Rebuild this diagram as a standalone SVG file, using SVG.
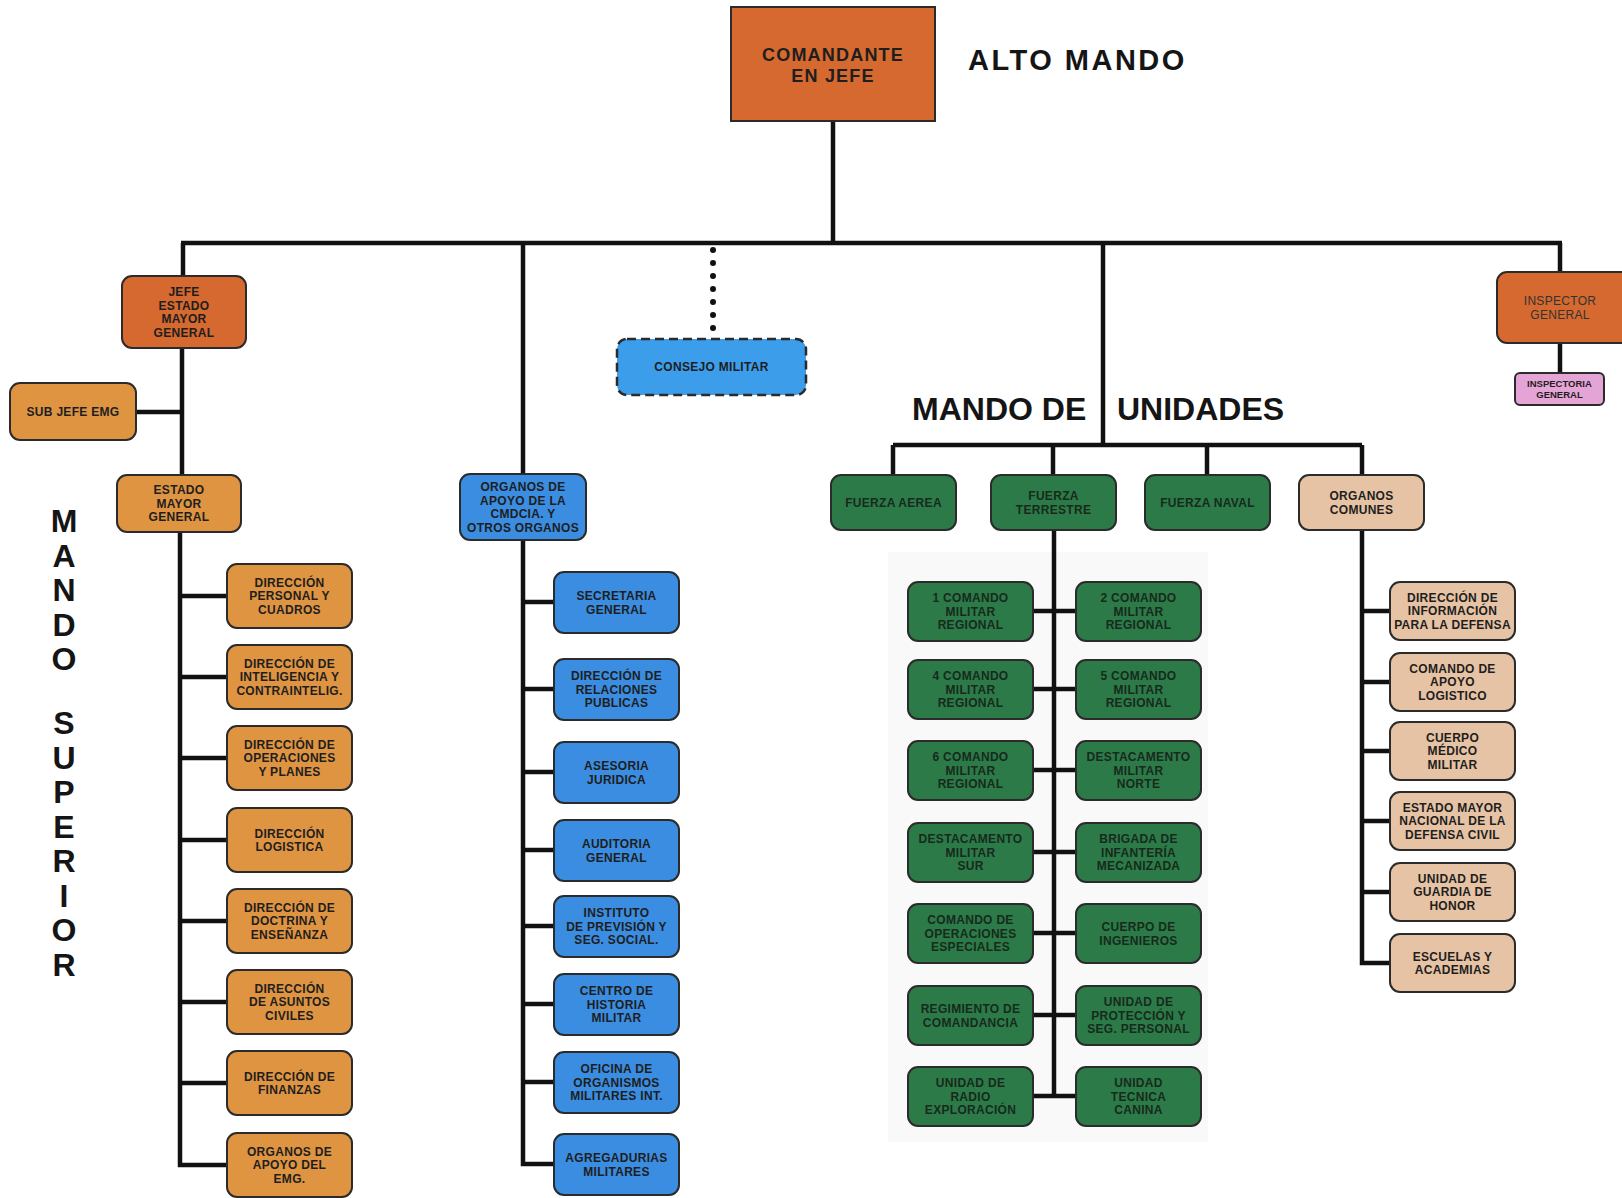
<svg xmlns="http://www.w3.org/2000/svg" width="1622" height="1198" viewBox="0 0 1622 1198">
<style>
.box{stroke:#2b2b2b;stroke-width:2}
.o1{fill:#D5692F}.o2{fill:#DF9442}.bl{fill:#3A8DE0}.cb{fill:#3C9DEB}.gr{fill:#2C7A47}.tn{fill:#E6C3A4}.pk{fill:#E4A5D6}
.t{font-family:"Liberation Sans",Arial,sans-serif;font-weight:bold;font-size:12px;fill:#1e1e1e;text-anchor:middle;letter-spacing:0.3px}
.tg{fill:#172a1d}
.big{font-family:"Liberation Sans",Arial,sans-serif;font-weight:bold;fill:#151515}
.conn{stroke:#111;stroke-width:4.5;fill:none}
.dots{stroke:#111;stroke-width:6;stroke-linecap:round;stroke-dasharray:0 13;fill:none}
</style>
<rect x="0" y="0" width="1622" height="1198" fill="#ffffff"/>
<rect x="888" y="552" width="320" height="590" fill="#f9f9f9"/>

<g id="connectors">
<path class="conn" d="M833 121V243M181 243H1562"/>
<path class="conn" d="M183 243V276M182 348V475M136 412H182"/>
<path class="conn" d="M180 532V1165H227M180 596H227M180 677H227M180 758H227M180 840H227M180 921H227M180 1002H227M180 1083H227"/>
<path class="conn" d="M523 243V474M523 540V1164H554M523 602H554M523 689H554M523 772H554M523 850H554M523 926H554M523 1004H554M523 1082H554"/>
<path class="dots" d="M713 250V330"/>
<path class="conn" d="M1103 243V445M893 445H1362M893 445V475M1053 445V475M1207 445V475M1362 445V475"/>
<path class="conn" d="M1054 530V1097M1033 611H1076M1033 689H1076M1033 770H1076M1033 852H1076M1033 933H1076M1033 1015H1076M1033 1096H1076"/>
<path class="conn" d="M1362 530V963H1390M1362 611H1390M1362 682H1390M1362 751H1390M1362 821H1390M1362 892H1390"/>
<path class="conn" d="M1560 243V272M1560 343V373"/>
</g>

<g id="titles">
<text class="big" x="968" y="70" style="font-size:29px;letter-spacing:2.5px">ALTO MANDO</text>
<text class="big" x="912" y="420" style="font-size:32px">MANDO DE</text>
<text class="big" x="1117" y="420" style="font-size:32px">UNIDADES</text>
<g class="big" style="font-size:32px;text-anchor:middle">
<text x="64" y="532">M</text><text x="64" y="566.5">A</text><text x="64" y="601">N</text><text x="64" y="635.5">D</text><text x="64" y="670">O</text>
<text x="64" y="734">S</text><text x="64" y="768.5">U</text><text x="64" y="803">P</text><text x="64" y="837.5">E</text><text x="64" y="872">R</text><text x="64" y="906.5">I</text><text x="64" y="941">O</text><text x="64" y="975.5">R</text>
</g>
</g>

<g id="comandante"><rect class="box o1" x="731" y="7" width="204" height="114"/><text class="t" style="font-size:18px;letter-spacing:1.2px" x="833" y="61">COMANDANTE<tspan x="833" dy="21">EN JEFE</tspan></text></g>

<g id="jefe-emg"><rect class="box o1" x="122" y="276" width="124" height="72" rx="10"/><text class="t" x="184" y="296">JEFE<tspan x="184" dy="13.5">ESTADO</tspan><tspan x="184" dy="13.5">MAYOR</tspan><tspan x="184" dy="13.5">GENERAL</tspan></text></g>
<g id="sub-jefe"><rect class="box o2" x="10" y="383" width="126" height="57" rx="10"/><text class="t" x="73" y="416">SUB JEFE EMG</text></g>
<g id="estado-mayor"><rect class="box o2" x="117" y="475" width="124" height="57" rx="10"/><text class="t" x="179" y="494.3">ESTADO<tspan x="179" dy="13.5">MAYOR</tspan><tspan x="179" dy="13.5">GENERAL</tspan></text></g>

<g id="dir-personal"><rect class="box o2" x="227" y="564" width="125" height="64" rx="10"/><text class="t" x="289.5" y="586.8">DIRECCIÓN<tspan x="289.5" dy="13.5">PERSONAL Y</tspan><tspan x="289.5" dy="13.5">CUADROS</tspan></text></g>
<g id="dir-inteligencia"><rect class="box o2" x="227" y="645" width="125" height="64" rx="10"/><text class="t" x="289.5" y="667.8">DIRECCIÓN DE<tspan x="289.5" dy="13.5">INTELIGENCIA Y</tspan><tspan x="289.5" dy="13.5">CONTRAINTELIG.</tspan></text></g>
<g id="dir-operaciones"><rect class="box o2" x="227" y="726" width="125" height="64" rx="10"/><text class="t" x="289.5" y="748.8">DIRECCIÓN DE<tspan x="289.5" dy="13.5">OPERACIONES</tspan><tspan x="289.5" dy="13.5">Y PLANES</tspan></text></g>
<g id="dir-logistica"><rect class="box o2" x="227" y="808" width="125" height="64" rx="10"/><text class="t" x="289.5" y="837.6">DIRECCIÓN<tspan x="289.5" dy="13.5">LOGISTICA</tspan></text></g>
<g id="dir-doctrina"><rect class="box o2" x="227" y="889" width="125" height="64" rx="10"/><text class="t" x="289.5" y="911.8">DIRECCIÓN DE<tspan x="289.5" dy="13.5">DOCTRINA Y</tspan><tspan x="289.5" dy="13.5">ENSEÑANZA</tspan></text></g>
<g id="dir-asuntos"><rect class="box o2" x="227" y="970" width="125" height="64" rx="10"/><text class="t" x="289.5" y="992.8">DIRECCIÓN<tspan x="289.5" dy="13.5">DE ASUNTOS</tspan><tspan x="289.5" dy="13.5">CIVILES</tspan></text></g>
<g id="dir-finanzas"><rect class="box o2" x="227" y="1051" width="125" height="64" rx="10"/><text class="t" x="289.5" y="1080.6">DIRECCIÓN DE<tspan x="289.5" dy="13.5">FINANZAS</tspan></text></g>
<g id="organos-emg"><rect class="box o2" x="227" y="1133" width="125" height="64" rx="10"/><text class="t" x="289.5" y="1155.8">ORGANOS DE<tspan x="289.5" dy="13.5">APOYO DEL</tspan><tspan x="289.5" dy="13.5">EMG.</tspan></text></g>

<g id="organos-apoyo"><rect class="box bl" x="460" y="474" width="126" height="66" rx="10"/><text class="t" x="523" y="491">ORGANOS DE<tspan x="523" dy="13.5">APOYO DE LA</tspan><tspan x="523" dy="13.5">CMDCIA. Y</tspan><tspan x="523" dy="13.5">OTROS ORGANOS</tspan></text></g>
<g id="consejo"><rect class="box cb" x="617" y="339" width="189" height="56" rx="10" style="stroke-width:2.5;stroke-dasharray:9 5"/><text class="t" x="711.5" y="371">CONSEJO MILITAR</text></g>

<g id="secretaria"><rect class="box bl" x="554" y="572" width="125" height="61" rx="10"/><text class="t" x="616.5" y="600">SECRETARIA<tspan x="616.5" dy="13.5">GENERAL</tspan></text></g>
<g id="relaciones"><rect class="box bl" x="554" y="659" width="125" height="61" rx="10"/><text class="t" x="616.5" y="680.3">DIRECCIÓN DE<tspan x="616.5" dy="13.5">RELACIONES</tspan><tspan x="616.5" dy="13.5">PUBLICAS</tspan></text></g>
<g id="asesoria"><rect class="box bl" x="554" y="742" width="125" height="61" rx="10"/><text class="t" x="616.5" y="770">ASESORIA<tspan x="616.5" dy="13.5">JURIDICA</tspan></text></g>
<g id="auditoria"><rect class="box bl" x="554" y="820" width="125" height="61" rx="10"/><text class="t" x="616.5" y="848">AUDITORIA<tspan x="616.5" dy="13.5">GENERAL</tspan></text></g>
<g id="instituto"><rect class="box bl" x="554" y="896" width="125" height="61" rx="10"/><text class="t" x="616.5" y="917.3">INSTITUTO<tspan x="616.5" dy="13.5">DE PREVISIÓN Y</tspan><tspan x="616.5" dy="13.5">SEG. SOCIAL.</tspan></text></g>
<g id="historia"><rect class="box bl" x="554" y="974" width="125" height="61" rx="10"/><text class="t" x="616.5" y="995.3">CENTRO DE<tspan x="616.5" dy="13.5">HISTORIA</tspan><tspan x="616.5" dy="13.5">MILITAR</tspan></text></g>
<g id="oficina"><rect class="box bl" x="554" y="1052" width="125" height="61" rx="10"/><text class="t" x="616.5" y="1073.3">OFICINA DE<tspan x="616.5" dy="13.5">ORGANISMOS</tspan><tspan x="616.5" dy="13.5">MILITARES INT.</tspan></text></g>
<g id="agregadurias"><rect class="box bl" x="554" y="1134" width="125" height="61" rx="10"/><text class="t" x="616.5" y="1162">AGREGADURIAS<tspan x="616.5" dy="13.5">MILITARES</tspan></text></g>

<g id="fuerza-aerea"><rect class="box gr" x="831" y="475" width="125" height="55" rx="10"/><text class="t tg" x="893.5" y="506.8">FUERZA AEREA</text></g>
<g id="fuerza-terrestre"><rect class="box gr" x="991" y="475" width="125" height="55" rx="10"/><text class="t tg" x="1053.5" y="500">FUERZA<tspan x="1053.5" dy="13.5">TERRESTRE</tspan></text></g>
<g id="fuerza-naval"><rect class="box gr" x="1145" y="475" width="125" height="55" rx="10"/><text class="t tg" x="1207.5" y="506.8">FUERZA NAVAL</text></g>
<g id="organos-comunes"><rect class="box tn" x="1299" y="475" width="125" height="55" rx="10"/><text class="t" x="1361.5" y="500">ORGANOS<tspan x="1361.5" dy="13.5">COMUNES</tspan></text></g>

<g id="cmr1"><rect class="box gr" x="908" y="582" width="125" height="59" rx="10"/><text class="t tg" x="970.5" y="602.3">1 COMANDO<tspan x="970.5" dy="13.5">MILITAR</tspan><tspan x="970.5" dy="13.5">REGIONAL</tspan></text></g>
<g id="cmr2"><rect class="box gr" x="1076" y="582" width="125" height="59" rx="10"/><text class="t tg" x="1138.5" y="602.3">2 COMANDO<tspan x="1138.5" dy="13.5">MILITAR</tspan><tspan x="1138.5" dy="13.5">REGIONAL</tspan></text></g>
<g id="cmr4"><rect class="box gr" x="908" y="660" width="125" height="59" rx="10"/><text class="t tg" x="970.5" y="680.3">4 COMANDO<tspan x="970.5" dy="13.5">MILITAR</tspan><tspan x="970.5" dy="13.5">REGIONAL</tspan></text></g>
<g id="cmr5"><rect class="box gr" x="1076" y="660" width="125" height="59" rx="10"/><text class="t tg" x="1138.5" y="680.3">5 COMANDO<tspan x="1138.5" dy="13.5">MILITAR</tspan><tspan x="1138.5" dy="13.5">REGIONAL</tspan></text></g>
<g id="cmr6"><rect class="box gr" x="908" y="741" width="125" height="59" rx="10"/><text class="t tg" x="970.5" y="761.3">6 COMANDO<tspan x="970.5" dy="13.5">MILITAR</tspan><tspan x="970.5" dy="13.5">REGIONAL</tspan></text></g>
<g id="dest-norte"><rect class="box gr" x="1076" y="741" width="125" height="59" rx="10"/><text class="t tg" x="1138.5" y="761.3">DESTACAMENTO<tspan x="1138.5" dy="13.5">MILITAR</tspan><tspan x="1138.5" dy="13.5">NORTE</tspan></text></g>
<g id="dest-sur"><rect class="box gr" x="908" y="823" width="125" height="59" rx="10"/><text class="t tg" x="970.5" y="843.3">DESTACAMENTO<tspan x="970.5" dy="13.5">MILITAR</tspan><tspan x="970.5" dy="13.5">SUR</tspan></text></g>
<g id="brigada"><rect class="box gr" x="1076" y="823" width="125" height="59" rx="10"/><text class="t tg" x="1138.5" y="843.3">BRIGADA DE<tspan x="1138.5" dy="13.5">INFANTERÍA</tspan><tspan x="1138.5" dy="13.5">MECANIZADA</tspan></text></g>
<g id="com-operaciones"><rect class="box gr" x="908" y="904" width="125" height="59" rx="10"/><text class="t tg" x="970.5" y="924.3">COMANDO DE<tspan x="970.5" dy="13.5">OPERACIONES</tspan><tspan x="970.5" dy="13.5">ESPECIALES</tspan></text></g>
<g id="ingenieros"><rect class="box gr" x="1076" y="904" width="125" height="59" rx="10"/><text class="t tg" x="1138.5" y="931">CUERPO DE<tspan x="1138.5" dy="13.5">INGENIEROS</tspan></text></g>
<g id="regimiento"><rect class="box gr" x="908" y="986" width="125" height="59" rx="10"/><text class="t tg" x="970.5" y="1013">REGIMIENTO DE<tspan x="970.5" dy="13.5">COMANDANCIA</tspan></text></g>
<g id="proteccion"><rect class="box gr" x="1076" y="986" width="125" height="59" rx="10"/><text class="t tg" x="1138.5" y="1006.3">UNIDAD DE<tspan x="1138.5" dy="13.5">PROTECCIÓN Y</tspan><tspan x="1138.5" dy="13.5">SEG. PERSONAL</tspan></text></g>
<g id="radio"><rect class="box gr" x="908" y="1067" width="125" height="59" rx="10"/><text class="t tg" x="970.5" y="1087.3">UNIDAD DE<tspan x="970.5" dy="13.5">RADIO</tspan><tspan x="970.5" dy="13.5">EXPLORACIÓN</tspan></text></g>
<g id="canina"><rect class="box gr" x="1076" y="1067" width="125" height="59" rx="10"/><text class="t tg" x="1138.5" y="1087.3">UNIDAD<tspan x="1138.5" dy="13.5">TECNICA</tspan><tspan x="1138.5" dy="13.5">CANINA</tspan></text></g>

<g id="dir-informacion"><rect class="box tn" x="1390" y="582" width="125" height="58" rx="10"/><text class="t" x="1452.5" y="601.8">DIRECCIÓN DE<tspan x="1452.5" dy="13.5">INFORMACIÓN</tspan><tspan x="1452.5" dy="13.5">PARA LA DEFENSA</tspan></text></g>
<g id="apoyo-logistico"><rect class="box tn" x="1390" y="653" width="125" height="58" rx="10"/><text class="t" x="1452.5" y="672.8">COMANDO DE<tspan x="1452.5" dy="13.5">APOYO</tspan><tspan x="1452.5" dy="13.5">LOGISTICO</tspan></text></g>
<g id="cuerpo-medico"><rect class="box tn" x="1390" y="722" width="125" height="58" rx="10"/><text class="t" x="1452.5" y="741.8">CUERPO<tspan x="1452.5" dy="13.5">MÉDICO</tspan><tspan x="1452.5" dy="13.5">MILITAR</tspan></text></g>
<g id="defensa-civil"><rect class="box tn" x="1390" y="792" width="125" height="58" rx="10"/><text class="t" x="1452.5" y="811.8">ESTADO MAYOR<tspan x="1452.5" dy="13.5">NACIONAL DE LA</tspan><tspan x="1452.5" dy="13.5">DEFENSA CIVIL</tspan></text></g>
<g id="guardia-honor"><rect class="box tn" x="1390" y="863" width="125" height="58" rx="10"/><text class="t" x="1452.5" y="882.8">UNIDAD DE<tspan x="1452.5" dy="13.5">GUARDIA DE</tspan><tspan x="1452.5" dy="13.5">HONOR</tspan></text></g>
<g id="escuelas"><rect class="box tn" x="1390" y="934" width="125" height="58" rx="10"/><text class="t" x="1452.5" y="960.5">ESCUELAS Y<tspan x="1452.5" dy="13.5">ACADEMIAS</tspan></text></g>

<g id="inspector"><rect class="box o1" x="1497" y="272" width="134" height="71" rx="10"/><text class="t" style="font-weight:normal;fill:#333" x="1560" y="305">INSPECTOR<tspan x="1560" dy="13.5">GENERAL</tspan></text></g>
<g id="inspectoria"><rect class="box pk" x="1515" y="373" width="89" height="32" rx="5"/><text class="t" style="font-size:9.5px;letter-spacing:0" x="1559.5" y="387">INSPECTORIA<tspan x="1559.5" dy="11">GENERAL</tspan></text></g>
</svg>
